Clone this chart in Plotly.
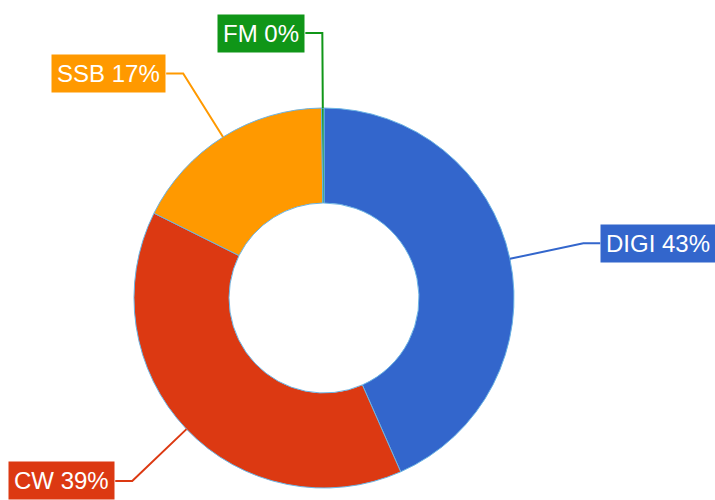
import math
import plotly.graph_objects as go

# ---- data ----
labels = ["DIGI", "CW", "SSB", "FM"]
values = [433, 389, 174, 2]
colors = ["#3366cc", "#dc3912", "#ff9900", "#109618"]

# ---- layout constants (pixels) ----
W, H = 715, 500
CX, CY, R = 324, 298, 190
HOLE = 0.5
LEN1, LEN2 = 75, 17

fig = go.Figure()
fig.add_trace(go.Pie(
    labels=labels, values=values, sort=False, direction="clockwise", rotation=0,
    hole=HOLE, textinfo="none", showlegend=False,
    marker=dict(colors=colors, line=dict(color="#6cb4e4", width=1)),
    domain=dict(x=[(CX - R) / W, (CX + R) / W], y=[1 - (CY + R) / H, 1 - (CY - R) / H]),
))

def px(x, y):
    return x / W, 1 - y / H

total = sum(values)
cum = 0.0
shapes, annotations = [], []
for lab, v, c in zip(labels, values, colors):
    start = cum / total * 360
    cum += v
    end = cum / total * 360
    mid = math.radians((start + end) / 2)
    sx, sy = math.sin(mid), -math.cos(mid)
    x0, y0 = CX + R * sx, CY + R * sy
    x1, y1 = CX + (R + LEN1) * sx, CY + (R + LEN1) * sy
    right = sx >= 0
    x2 = x1 + (LEN2 if right else -LEN2)
    p0, p1, p2 = px(x0, y0), px(x1, y1), px(x2, y1)
    shapes.append(dict(type="path", xref="paper", yref="paper",
                       path=f"M {p0[0]},{p0[1]} L {p1[0]},{p1[1]} L {p2[0]},{p2[1]}",
                       line=dict(color=c, width=2)))
    pct = round(v / total * 100)
    annotations.append(dict(xref="paper", yref="paper", x=p2[0], y=p2[1],
                            xanchor="left" if right else "right", yanchor="middle",
                            text=f"{lab} {pct}%", showarrow=False, bgcolor=c,
                            borderpad=5,
                            font=dict(color="white", size=24,
                                      family="Liberation Sans, Arial, sans-serif")))

fig.update_layout(width=W, height=H, margin=dict(l=0, r=0, t=0, b=0),
                  paper_bgcolor="white", plot_bgcolor="white",
                  shapes=shapes, annotations=annotations)
fig.write_html("out.html", config={"displayModeBar": False},
               post_script="document.body.style.margin='0';document.body.style.overflow='hidden';")
